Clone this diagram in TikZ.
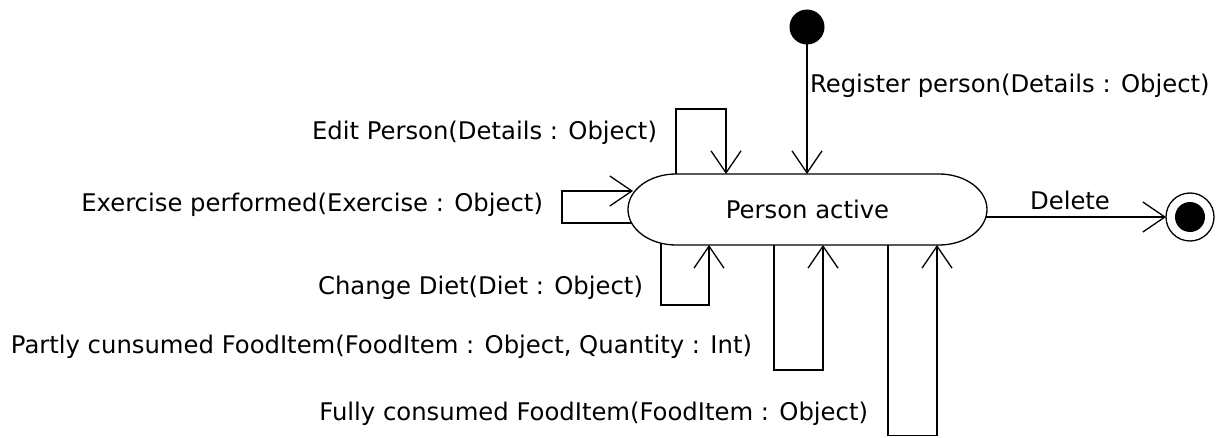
\documentclass[tikz,border=0pt]{standalone}
\usepackage{fontspec}
\setmainfont{DejaVu Sans}
\usetikzlibrary{arrows.meta,calc}
\begin{document}
\begin{tikzpicture}[x=1pt,y=1pt,
  every node/.style={inner sep=0pt,outer sep=0pt},
  lbl/.style={font=\fontsize{24.3}{28}\selectfont},
  trans/.style={line width=1.3pt,-{Straight Barb[length=22pt,width=30pt,line width=1.3pt]}},
  statebox/.style={rectangle,minimum width=359pt,minimum height=71pt,draw=none},
  initstate/.style={circle,fill=black,minimum size=35pt},
  finalring/.style={circle,draw=black,line width=1.3pt,minimum size=48pt},
  finalcore/.style={circle,fill=black,minimum size=30pt}]
\useasboundingbox (0,0) rectangle (1217,437);

% state "Person active" with elliptical ends
\node[statebox,lbl] (pa) at (807.5,227.5) {Person active};
\draw[line width=1.3pt,shift={(pa.center)}]
  (-131.5,35.5) -- (131.5,35.5)
  arc[start angle=90,end angle=-90,x radius=48,y radius=35.5]
  -- (-131.5,-35.5)
  arc[start angle=270,end angle=90,x radius=48,y radius=35.5] -- cycle;

% initial and final pseudo-states
\node[initstate] (init) at (807,410) {};
\node[finalring] (fin) at (1190,220) {};
\node[finalcore] (fincore) at (fin.center) {};

% attachment points on the state outline
\coordinate (editA) at ($(pa.center)+(-131.5,35.5)$);
\coordinate (editB) at ($(pa.center)+(-81.5,35.5)$);
\coordinate (regB)  at ($(pa.center)+(-0.5,35.5)$);
\coordinate (exA)   at ($(pa.center)+(-175.9,-13.5)$);
\coordinate (exB)   at ($(pa.center)+(-174.5,18.5)$);
\coordinate (dietA) at ($(pa.center)+(-146.5,-33.7)$);
\coordinate (dietB) at ($(pa.center)+(-98.5,-35.5)$);
\coordinate (partA) at ($(pa.center)+(-33.5,-35.5)$);
\coordinate (partB) at ($(pa.center)+(15.5,-35.5)$);
\coordinate (fullA) at ($(pa.center)+(80.5,-35.5)$);
\coordinate (fullB) at ($(pa.center)+(129.5,-35.5)$);
\coordinate (delA)  at ($(pa.center)+(178.4,-7.5)$);

% transitions
\draw[trans] (init) -- (regB);
\draw[trans] (editA) |- (726,328) -- (editB);
\draw[trans] (exA) -| (562,246) -- (exB);
\draw[trans] (dietA) |- (709,132) -- (dietB);
\draw[trans] (partA) |- (823,67) -- (partB);
\draw[trans] (fullA) |- (937,1.5) -- (fullB);
\draw[trans] (delA) -- (fin);

% transition labels
\node[lbl,anchor=west] (regL)  at (810,351) {Register person(Details : Object)};
\node[lbl,anchor=east] (editL) at (657,304) {Edit Person(Details : Object)};
\node[lbl,anchor=east] (exL)   at (543,232) {Exercise performed(Exercise : Object)};
\node[lbl,anchor=east] (dietL) at (643,149) {Change Diet(Diet : Object)};
\node[lbl,anchor=east] (partL) at (752,90) {Partly cunsumed FoodItem(FoodItem : Object, Quantity : Int)};
\node[lbl,anchor=east] (fullL) at (868,23) {Fully consumed FoodItem(FoodItem : Object)};
\node[lbl] (delL) at (1070,237) {Delete};
\end{tikzpicture}
\end{document}
